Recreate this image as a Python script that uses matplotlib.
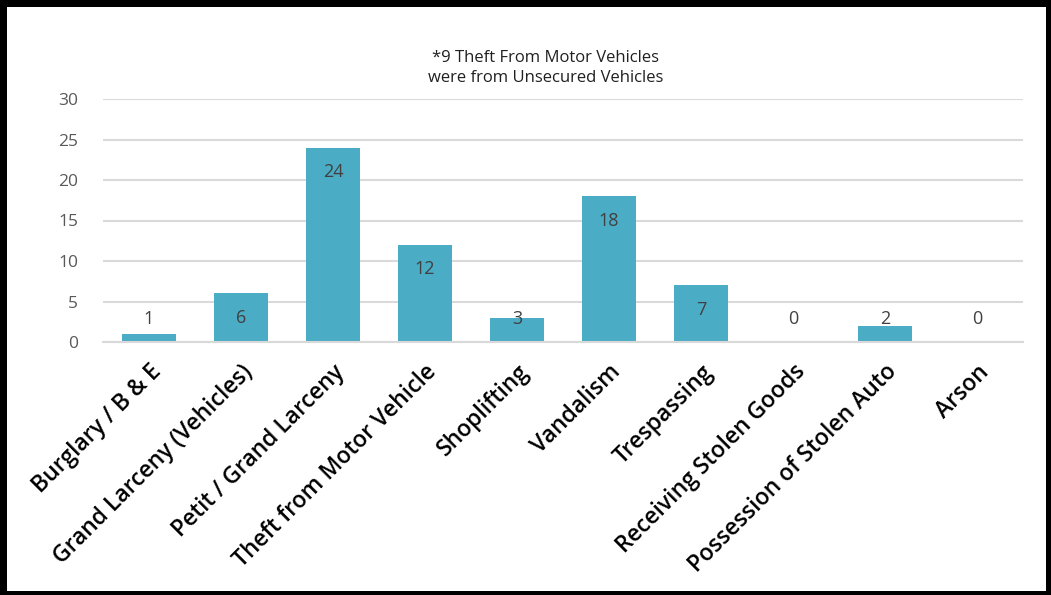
import matplotlib
matplotlib.use('Agg')
import matplotlib.pyplot as plt
from matplotlib.patches import Rectangle

categories = ['Burglary / B & E',
              'Grand Larceny (Vehicles)',
              'Petit / Grand Larceny',
              'Theft from Motor Vehicle',
              'Shoplifting',
              'Vandalism',
              'Trespassing',
              'Receiving Stolen Goods',
              'Possession of Stolen Auto',
              'Arson']
counts = [1, 6, 24, 12, 3, 18, 7, 0, 2, 0]
note = '*9 Theft From Motor Vehicles\nwere from Unsecured Vehicles'

bar_color = '#4BACC6'
grid_color = '#D9D9D9'

fig = plt.figure(figsize=(10.51, 5.95), dpi=100)
ax = fig.add_axes([103/1051, 1-342/595, 920/1051, 243/595])

x = list(range(len(categories)))
ax.bar(x, counts, width=0.58, color=bar_color, zorder=2)

# value labels sit just inside the top of each bar, short bars get them above
for xi, v in zip(x, counts):
    ax.text(xi, max(v - 3, 2.9), str(v), ha='center', va='center',
            fontsize=13, color='#404040', family=['Open Sans', 'DejaVu Sans'], zorder=3)

ax.set_xlim(-0.5, len(categories) - 0.5)
ax.set_ylim(0, 30)
ax.set_yticks(range(0, 31, 5))
ax.yaxis.grid(True, color=grid_color, linewidth=1.5, zorder=0)
ax.set_axisbelow(True)
for side in ['top', 'right', 'left']:
    ax.spines[side].set_visible(False)
ax.spines['bottom'].set_color(grid_color)
ax.spines['bottom'].set_linewidth(1.5)
ax.tick_params(axis='both', length=0)
ax.tick_params(axis='y', pad=18, labelsize=12.5, labelcolor='#595959')
for lab in ax.get_yticklabels():
    lab.set_family(['Open Sans', 'DejaVu Sans'])

ax.set_xticks(x)
ax.set_xticklabels(categories, rotation=45, ha='right', va='top',
                   rotation_mode='anchor', fontsize=16.5, fontweight='semibold',
                   family=['Open Sans', 'DejaVu Sans'], color='black')
ax.tick_params(axis='x', pad=13)

fig.text(546/1051, 1-68/595, note, ha='center', va='center', fontsize=12,
         color='#202020', family=['Open Sans', 'DejaVu Sans'], linespacing=1.4)

# black frame around the whole chart, heavier on the top/left
W, H = 1051, 595
frame = [(0, 0, 7, H), (0, H - 7, W, 7), (W - 5, 0, 5, H), (0, 0, W, 4)]
for fx, fy, fw, fh in frame:
    fig.add_artist(Rectangle((fx/W, fy/H), fw/W, fh/H, transform=fig.transFigure,
                             facecolor='black', edgecolor='none'))

fig.savefig('out.png', dpi=100)
